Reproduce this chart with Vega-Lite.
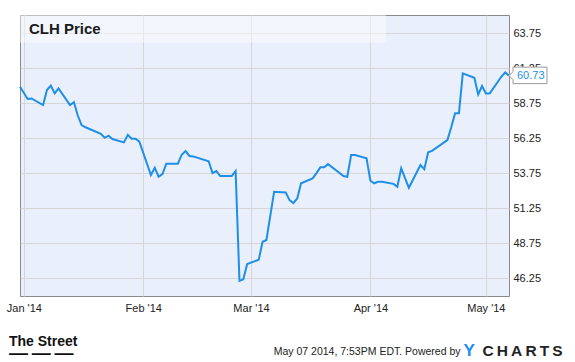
{
  "$schema": "https://vega.github.io/schema/vega-lite/v6.json",
  "autosize": {"type": "none"},
  "width": 489,
  "height": 281,
  "padding": {"left": 20, "top": 15, "right": 66, "bottom": 66},
  "background": "white",
  "title": {
    "text": "The Street",
    "subtitle": "—\u2009—\u2009—",
    "anchor": "start",
    "frame": "group",
    "orient": "top",
    "offset": 0,
    "dx": -11,
    "dy": 358.5,
    "baseline": "alphabetic",
    "font": "Liberation Sans",
    "fontSize": 14,
    "fontWeight": "bold",
    "color": "#111111",
    "subtitleFont": "Liberation Sans",
    "subtitleFontSize": 19,
    "subtitleFontWeight": "bold",
    "subtitleColor": "#111111",
    "subtitlePadding": -1.5
  },
  "data": {
    "values": [
      {"date": "2013-12-31", "price": 59.94},
      {"date": "2014-01-02", "price": 59.06},
      {"date": "2014-01-03", "price": 59.10},
      {"date": "2014-01-06", "price": 58.63},
      {"date": "2014-01-07", "price": 59.70},
      {"date": "2014-01-08", "price": 60.02},
      {"date": "2014-01-09", "price": 59.46},
      {"date": "2014-01-10", "price": 59.82},
      {"date": "2014-01-13", "price": 58.63},
      {"date": "2014-01-14", "price": 58.84},
      {"date": "2014-01-15", "price": 57.88},
      {"date": "2014-01-16", "price": 57.20},
      {"date": "2014-01-17", "price": 57.04},
      {"date": "2014-01-21", "price": 56.58},
      {"date": "2014-01-22", "price": 56.29},
      {"date": "2014-01-23", "price": 56.44},
      {"date": "2014-01-24", "price": 56.20},
      {"date": "2014-01-27", "price": 55.96},
      {"date": "2014-01-28", "price": 56.50},
      {"date": "2014-01-29", "price": 56.22},
      {"date": "2014-01-30", "price": 56.22},
      {"date": "2014-01-31", "price": 56.02},
      {"date": "2014-02-03", "price": 53.63},
      {"date": "2014-02-04", "price": 54.15},
      {"date": "2014-02-05", "price": 53.51},
      {"date": "2014-02-06", "price": 53.70},
      {"date": "2014-02-07", "price": 54.44},
      {"date": "2014-02-10", "price": 54.44},
      {"date": "2014-02-11", "price": 55.08},
      {"date": "2014-02-12", "price": 55.34},
      {"date": "2014-02-13", "price": 54.99},
      {"date": "2014-02-14", "price": 54.96},
      {"date": "2014-02-18", "price": 54.61},
      {"date": "2014-02-19", "price": 53.77},
      {"date": "2014-02-20", "price": 53.91},
      {"date": "2014-02-21", "price": 53.56},
      {"date": "2014-02-24", "price": 53.56},
      {"date": "2014-02-25", "price": 53.91},
      {"date": "2014-02-26", "price": 46.07},
      {"date": "2014-02-27", "price": 46.18},
      {"date": "2014-02-28", "price": 47.27},
      {"date": "2014-03-03", "price": 47.58},
      {"date": "2014-03-04", "price": 48.86},
      {"date": "2014-03-05", "price": 48.99},
      {"date": "2014-03-06", "price": 50.71},
      {"date": "2014-03-07", "price": 52.44},
      {"date": "2014-03-10", "price": 52.39},
      {"date": "2014-03-11", "price": 51.84},
      {"date": "2014-03-12", "price": 51.63},
      {"date": "2014-03-13", "price": 51.96},
      {"date": "2014-03-14", "price": 53.04},
      {"date": "2014-03-17", "price": 53.39},
      {"date": "2014-03-18", "price": 53.77},
      {"date": "2014-03-19", "price": 54.18},
      {"date": "2014-03-20", "price": 54.18},
      {"date": "2014-03-21", "price": 54.41},
      {"date": "2014-03-24", "price": 53.77},
      {"date": "2014-03-25", "price": 53.56},
      {"date": "2014-03-26", "price": 53.51},
      {"date": "2014-03-27", "price": 55.06},
      {"date": "2014-03-28", "price": 55.06},
      {"date": "2014-03-31", "price": 54.82},
      {"date": "2014-04-01", "price": 53.22},
      {"date": "2014-04-02", "price": 53.04},
      {"date": "2014-04-03", "price": 53.15},
      {"date": "2014-04-04", "price": 53.15},
      {"date": "2014-04-07", "price": 53.00},
      {"date": "2014-04-08", "price": 52.79},
      {"date": "2014-04-09", "price": 54.11},
      {"date": "2014-04-10", "price": 53.41},
      {"date": "2014-04-11", "price": 52.72},
      {"date": "2014-04-14", "price": 54.34},
      {"date": "2014-04-15", "price": 54.04},
      {"date": "2014-04-16", "price": 55.25},
      {"date": "2014-04-17", "price": 55.36},
      {"date": "2014-04-21", "price": 56.13},
      {"date": "2014-04-22", "price": 57.04},
      {"date": "2014-04-23", "price": 58.04},
      {"date": "2014-04-24", "price": 58.04},
      {"date": "2014-04-25", "price": 60.89},
      {"date": "2014-04-28", "price": 60.58},
      {"date": "2014-04-29", "price": 59.39},
      {"date": "2014-04-30", "price": 59.99},
      {"date": "2014-05-01", "price": 59.46},
      {"date": "2014-05-02", "price": 59.46},
      {"date": "2014-05-05", "price": 60.65},
      {"date": "2014-05-06", "price": 60.96},
      {"date": "2014-05-07", "price": 60.73}
    ]
  },
  "resolve": {"axis": {"x": "independent", "y": "independent"}},
  "layer": [
    {
      "data": {"values": [{}]},
      "mark": {"type": "rect", "fill": "white", "opacity": 0.45},
      "encoding": {
        "x": {"datum": {"year": 2013, "month": 12, "date": 31, "utc": true}, "type": "temporal", "axis": null},
        "x2": {"datum": {"year": 2014, "month": 4, "date": 5, "utc": true}},
        "y": {"datum": 63.1, "type": "quantitative", "axis": null},
        "y2": {"datum": 65.06}
      }
    },
    {
      "mark": {"type": "line", "strokeWidth": 2, "interpolate": "linear"},
      "encoding": {
        "x": {
          "field": "date",
          "type": "temporal",
          "scale": {
            "type": "utc",
            "domain": [
              {"year": 2013, "month": 12, "date": 31, "utc": true},
              {"year": 2014, "month": 5, "date": 7, "utc": true}
            ]
          },
          "axis": {
            "orient": "bottom",
            "values": [
              {"year": 2014, "month": 1, "date": 1, "utc": true},
              {"year": 2014, "month": 2, "date": 1, "utc": true},
              {"year": 2014, "month": 3, "date": 1, "utc": true},
              {"year": 2014, "month": 4, "date": 1, "utc": true},
              {"year": 2014, "month": 5, "date": 1, "utc": true}
            ],
            "format": "%b '%y",
            "grid": true,
            "gridColor": "#d6d6d6",
            "gridWidth": 1,
            "domain": false,
            "ticks": false,
            "tickSize": 0,
            "labelPadding": 6,
            "labelFont": "Liberation Sans",
            "labelFontSize": 11,
            "labelColor": "#222222",
            "labelFlush": false,
            "labelOverlap": false,
            "title": "May 07 2014, 7:53PM EDT.  Powered by",
            "titleX": 440,
            "titleY": 58,
            "titleAlign": "right",
            "titleAnchor": "start",
            "titleBaseline": "alphabetic",
            "titleFont": "Liberation Sans",
            "titleFontSize": 10.5,
            "titleFontWeight": "normal",
            "titleColor": "#222222"
          }
        },
        "y": {
          "field": "price",
          "type": "quantitative",
          "scale": {"domain": [44.99, 65.06], "nice": false, "zero": false},
          "axis": {
            "orient": "right",
            "values": [46.25, 48.75, 51.25, 53.75, 56.25, 58.75, 61.25, 63.75],
            "format": ".2f",
            "grid": true,
            "gridColor": "#d6d6d6",
            "gridWidth": 1,
            "domain": false,
            "ticks": false,
            "tickSize": 0,
            "labelPadding": 4,
            "labelFont": "Liberation Sans",
            "labelFontSize": 11,
            "labelColor": "#222222",
            "labelFlush": false,
            "labelOverlap": false,
            "title": "C\u2009H\u2009A\u2009R\u2009T\u2009S",
            "titleAngle": 0,
            "titleX": -27,
            "titleY": 340,
            "titleAlign": "left",
            "titleAnchor": "start",
            "titleBaseline": "alphabetic",
            "titleFont": "Liberation Sans",
            "titleFontSize": 15.5,
            "titleFontWeight": "bold",
            "titleColor": "#222222"
          }
        },
        "color": {
          "datum": "CLH Price",
          "type": "nominal",
          "scale": {"range": ["#1d8fe8"]},
          "legend": {
            "orient": "none",
            "legendX": -6,
            "legendY": 6,
            "title": null,
            "padding": 0,
            "symbolSize": 0,
            "symbolStrokeWidth": 0,
            "symbolOpacity": 0,
            "labelOffset": 0,
            "labelFont": "Liberation Sans",
            "labelFontSize": 15,
            "labelFontWeight": "bold",
            "labelColor": "#1a1a1a"
          }
        }
      }
    },
    {
      "transform": [{"filter": "time(datum.date) == utc(2014, 4, 7)"}],
      "mark": {
        "type": "point",
        "shape": "M0,0L4,-4L4,-8.5L38,-8.5L38,8L4,8L4,4Z",
        "size": 4,
        "filled": true,
        "fill": "white",
        "stroke": "#9a9a9a",
        "strokeWidth": 1,
        "opacity": 1
      },
      "encoding": {
        "x": {"field": "date", "type": "temporal", "axis": null},
        "y": {
          "field": "price",
          "type": "quantitative",
          "axis": {
            "orient": "right",
            "domain": false,
            "ticks": false,
            "labels": false,
            "grid": false,
            "title": "Y",
            "titleAngle": 0,
            "titleX": -46,
            "titleY": 340,
            "titleAlign": "left",
            "titleAnchor": "start",
            "titleBaseline": "alphabetic",
            "titleFont": "Liberation Sans",
            "titleFontSize": 17,
            "titleFontWeight": "bold",
            "titleColor": "#1d8fe8"
          }
        }
      }
    },
    {
      "transform": [{"filter": "time(datum.date) == utc(2014, 4, 7)"}],
      "mark": {"type": "text", "align": "left", "baseline": "middle", "dx": 8, "font": "Liberation Sans", "fontSize": 11, "color": "#1d8fe8"},
      "encoding": {
        "x": {"field": "date", "type": "temporal", "axis": null},
        "y": {"field": "price", "type": "quantitative", "axis": null},
        "text": {"field": "price", "type": "quantitative", "format": ".2f"}
      }
    }
  ],
  "config": {
    "font": "Liberation Sans",
    "view": {"fill": "#eaf0fb", "stroke": "#8a8a8a", "strokeWidth": 1}
  }
}
